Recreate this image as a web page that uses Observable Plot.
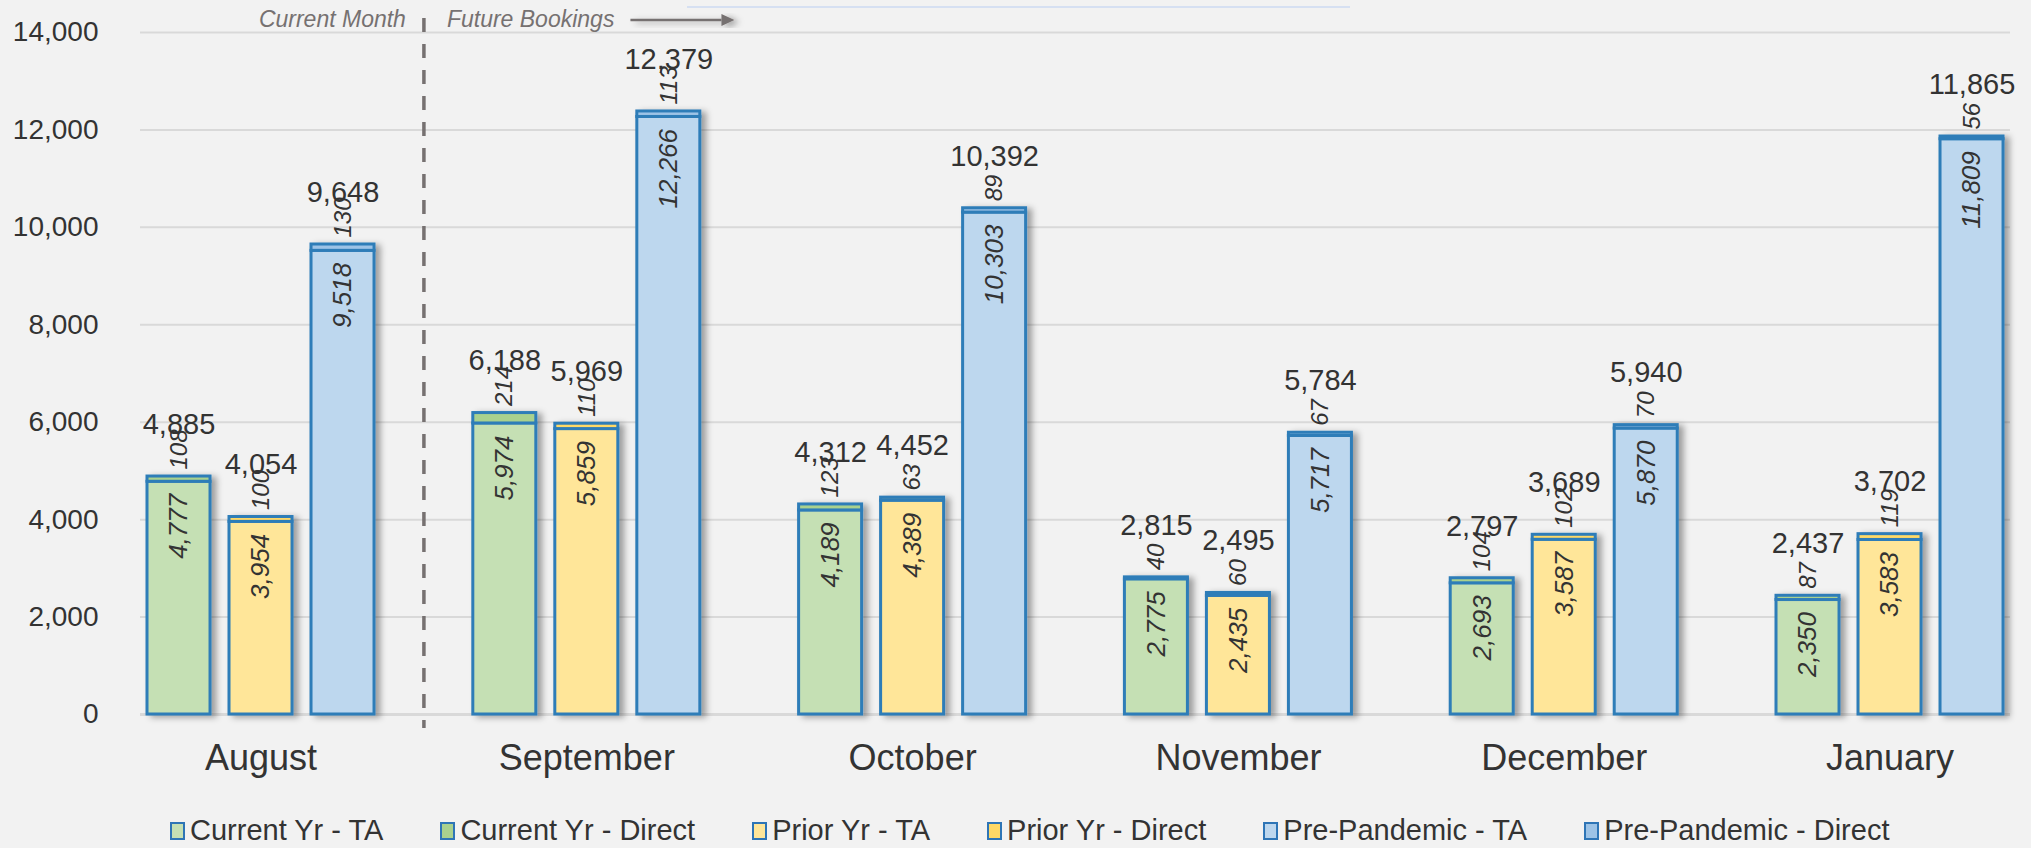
<!DOCTYPE html>
<html>
<head>
<meta charset="utf-8">
<script src="https://cdn.jsdelivr.net/npm/d3@7"></script>
<script src="https://cdn.jsdelivr.net/npm/@observablehq/plot@0.6"></script>
<style>
  html, body { margin: 0; padding: 0; background: #F2F2F2; }
  body { width: 2031px; height: 848px; position: relative; overflow: hidden; font-family: "Liberation Sans", Arial, sans-serif; }
  #chart { position: absolute; left: 0; top: 0; }
  #legend { position: absolute; left: 170px; top: 814px; display: flex; align-items: center; gap: 57px; font-size: 29px; color: #333; white-space: nowrap; }
  #legend .item { display: flex; align-items: center; gap: 5px; }
  #legend .sw { width: 11px; height: 14px; border: 2.5px solid #2E75B6; display: inline-block; }
</style>
</head>
<body>
<div id="chart"></div>
<div id="legend"></div>
<script>
// ---- data ----
const months = ["August", "September", "October", "November", "December", "January"];
const groups = ["Current Yr", "Prior Yr", "Pre-Pandemic"];
const currentTA     = [4777, 5974, 4189, 2775, 2693, 2350];
const currentDirect = [108, 214, 123, 40, 104, 87];
const priorTA       = [3954, 5859, 4389, 2435, 3587, 3583];
const priorDirect   = [100, 110, 63, 60, 102, 119];
const preTA         = [9518, 12266, 10303, 5717, 5870, 11809];
const preDirect     = [130, 113, 89, 67, 70, 56];
const yTicks = [0, 2000, 4000, 6000, 8000, 10000, 12000, 14000];
const legendLabels = ["Current Yr - TA", "Current Yr - Direct", "Prior Yr - TA", "Prior Yr - Direct", "Pre-Pandemic - TA", "Pre-Pandemic - Direct"];
const currentMonthCount = 1; // August is the current month; the rest are future bookings
const annotLeft = "Current Month";
const annotRight = "Future Bookings";

// ---- styles ----
const taColors = ["#C5E0B4", "#FFE699", "#BDD7EE"];
const directColors = ["#A9D18E", "#FFD966", "#9DC3E6"];
const outline = "#2E7DB8";
const textColor = "#333333";

const taSeries = [currentTA, priorTA, preTA];
const directSeries = [currentDirect, priorDirect, preDirect];

const rows = [];
months.forEach((m, i) => {
  groups.forEach((g, gi) => {
    const ta = taSeries[gi][i], direct = directSeries[gi][i];
    rows.push({mi: i, month: m, g: gi, group: g, ta, direct, total: ta + direct});
  });
});
const segments = [];
rows.forEach(r => {
  segments.push({...r, part: "TA", y1: 0, y2: r.ta, fill: taColors[r.g]});
  segments.push({...r, part: "Direct", y1: r.ta, y2: r.total, fill: directColors[r.g]});
});

const off = [-0.2517, 0, 0.2517];
const hw = 0.0967;
const cx = d => d.mi + off[d.g];
const fmt = d3.format(",");
const divider = currentMonthCount - 0.5;

const narrow = "'Liberation Sans Narrow', 'Arial Narrow', 'Liberation Sans', sans-serif";

const chart = Plot.plot({
  width: 2031,
  height: 800,
  marginLeft: 140,
  marginRight: 21,
  marginTop: 32,
  marginBottom: 86,
  style: {background: "transparent", fontFamily: "'Liberation Sans', Arial, sans-serif", color: textColor},
  x: {type: "linear", domain: [-0.3699, 5.3698]},
  y: {domain: [0, 14000]},
  marks: [
    Plot.gridY(yTicks.filter(t => t > 0), {stroke: "#D9D9D9", strokeOpacity: 1, strokeWidth: 2}),
    Plot.ruleY([0], {stroke: "#D9D9D9", strokeWidth: 3}),
    Plot.axisY(yTicks, {tickSize: 0, tickPadding: 42, fontSize: 28, tickFormat: fmt, label: null, fill: textColor}),
    Plot.axisX(d3.range(months.length), {tickSize: 0, tickPadding: 30, fontSize: 36, tickFormat: i => months[i], label: null, fill: textColor}),
    Plot.ruleX([divider], {stroke: "#767171", strokeWidth: 3.5, strokeDasharray: "14,12", insetTop: -14, insetBottom: -14}),
    Plot.rect(segments, {
      x1: d => cx(d) - hw, x2: d => cx(d) + hw,
      y1: "y1", y2: "y2",
      fill: d => d.fill, stroke: outline, strokeWidth: 3
    }),
    Plot.text(rows, {x: cx, y: "ta", text: d => fmt(d.ta), rotate: -90, textAnchor: "end", lineAnchor: "middle", dy: 12,
      fontSize: 26, fontStyle: "italic", fontFamily: narrow, fill: textColor}),
    Plot.text(rows, {x: cx, y: "total", text: d => fmt(d.direct), rotate: -90, textAnchor: "start", lineAnchor: "middle", dy: -7,
      fontSize: 24, fontStyle: "italic", fontFamily: narrow, fill: textColor}),
    Plot.text(rows, {x: cx, y: "total", text: d => fmt(d.total), lineAnchor: "middle", dy: -52, fontSize: 29, fill: textColor}),
    Plot.text([annotLeft], {x: divider, y: 14000, text: d => d, textAnchor: "end", lineAnchor: "middle", dx: -18, dy: -13,
      fontSize: 23, fontStyle: "italic", fill: "#767171"}),
    Plot.text([annotRight], {x: divider, y: 14000, text: d => d, textAnchor: "start", lineAnchor: "middle", dx: 23, dy: -13,
      fontSize: 23, fontStyle: "italic", fill: "#767171"})
  ]
});

// drop shadow on bars + arrow annotation
const svg = d3.select(chart);
const defs = svg.insert("defs", ":first-child");
defs.append("filter").attr("id", "barShadow").attr("x", "-30%").attr("y", "-5%").attr("width", "170%").attr("height", "115%")
  .append("feDropShadow").attr("dx", 5).attr("dy", 2).attr("stdDeviation", 3)
  .attr("flood-color", "#000").attr("flood-opacity", 0.35);
svg.selectAll("g[aria-label='rect']").attr("filter", "url(#barShadow)");

const xs = chart.scale("x");
const ys = chart.scale("y");
const x0 = xs.apply(divider);
const ay = ys.apply(14000) - 12;
const ag = svg.append("g").attr("filter", "url(#barShadow)");
ag.append("line").attr("x1", x0 + 207).attr("x2", x0 + 298).attr("y1", ay).attr("y2", ay)
  .attr("stroke", "#767171").attr("stroke-width", 2.5);
ag.append("path").attr("d", `M${x0 + 298},${ay - 6}L${x0 + 311},${ay}L${x0 + 298},${ay + 6}Z`).attr("fill", "#767171");
// faint title rule at top
svg.append("line").attr("x1", 687).attr("x2", 1350).attr("y1", 7).attr("y2", 7).attr("stroke", "#D6E0F2").attr("stroke-width", 2);

document.getElementById("chart").appendChild(chart);

// legend
const legendColors = [taColors[0], directColors[0], taColors[1], directColors[1], taColors[2], directColors[2]];
const legend = d3.select("#legend");
legendLabels.forEach((lab, i) => {
  const it = legend.append("div").attr("class", "item");
  it.append("span").attr("class", "sw").style("background", legendColors[i]);
  it.append("span").text(lab);
});
</script>
</body>
</html>
